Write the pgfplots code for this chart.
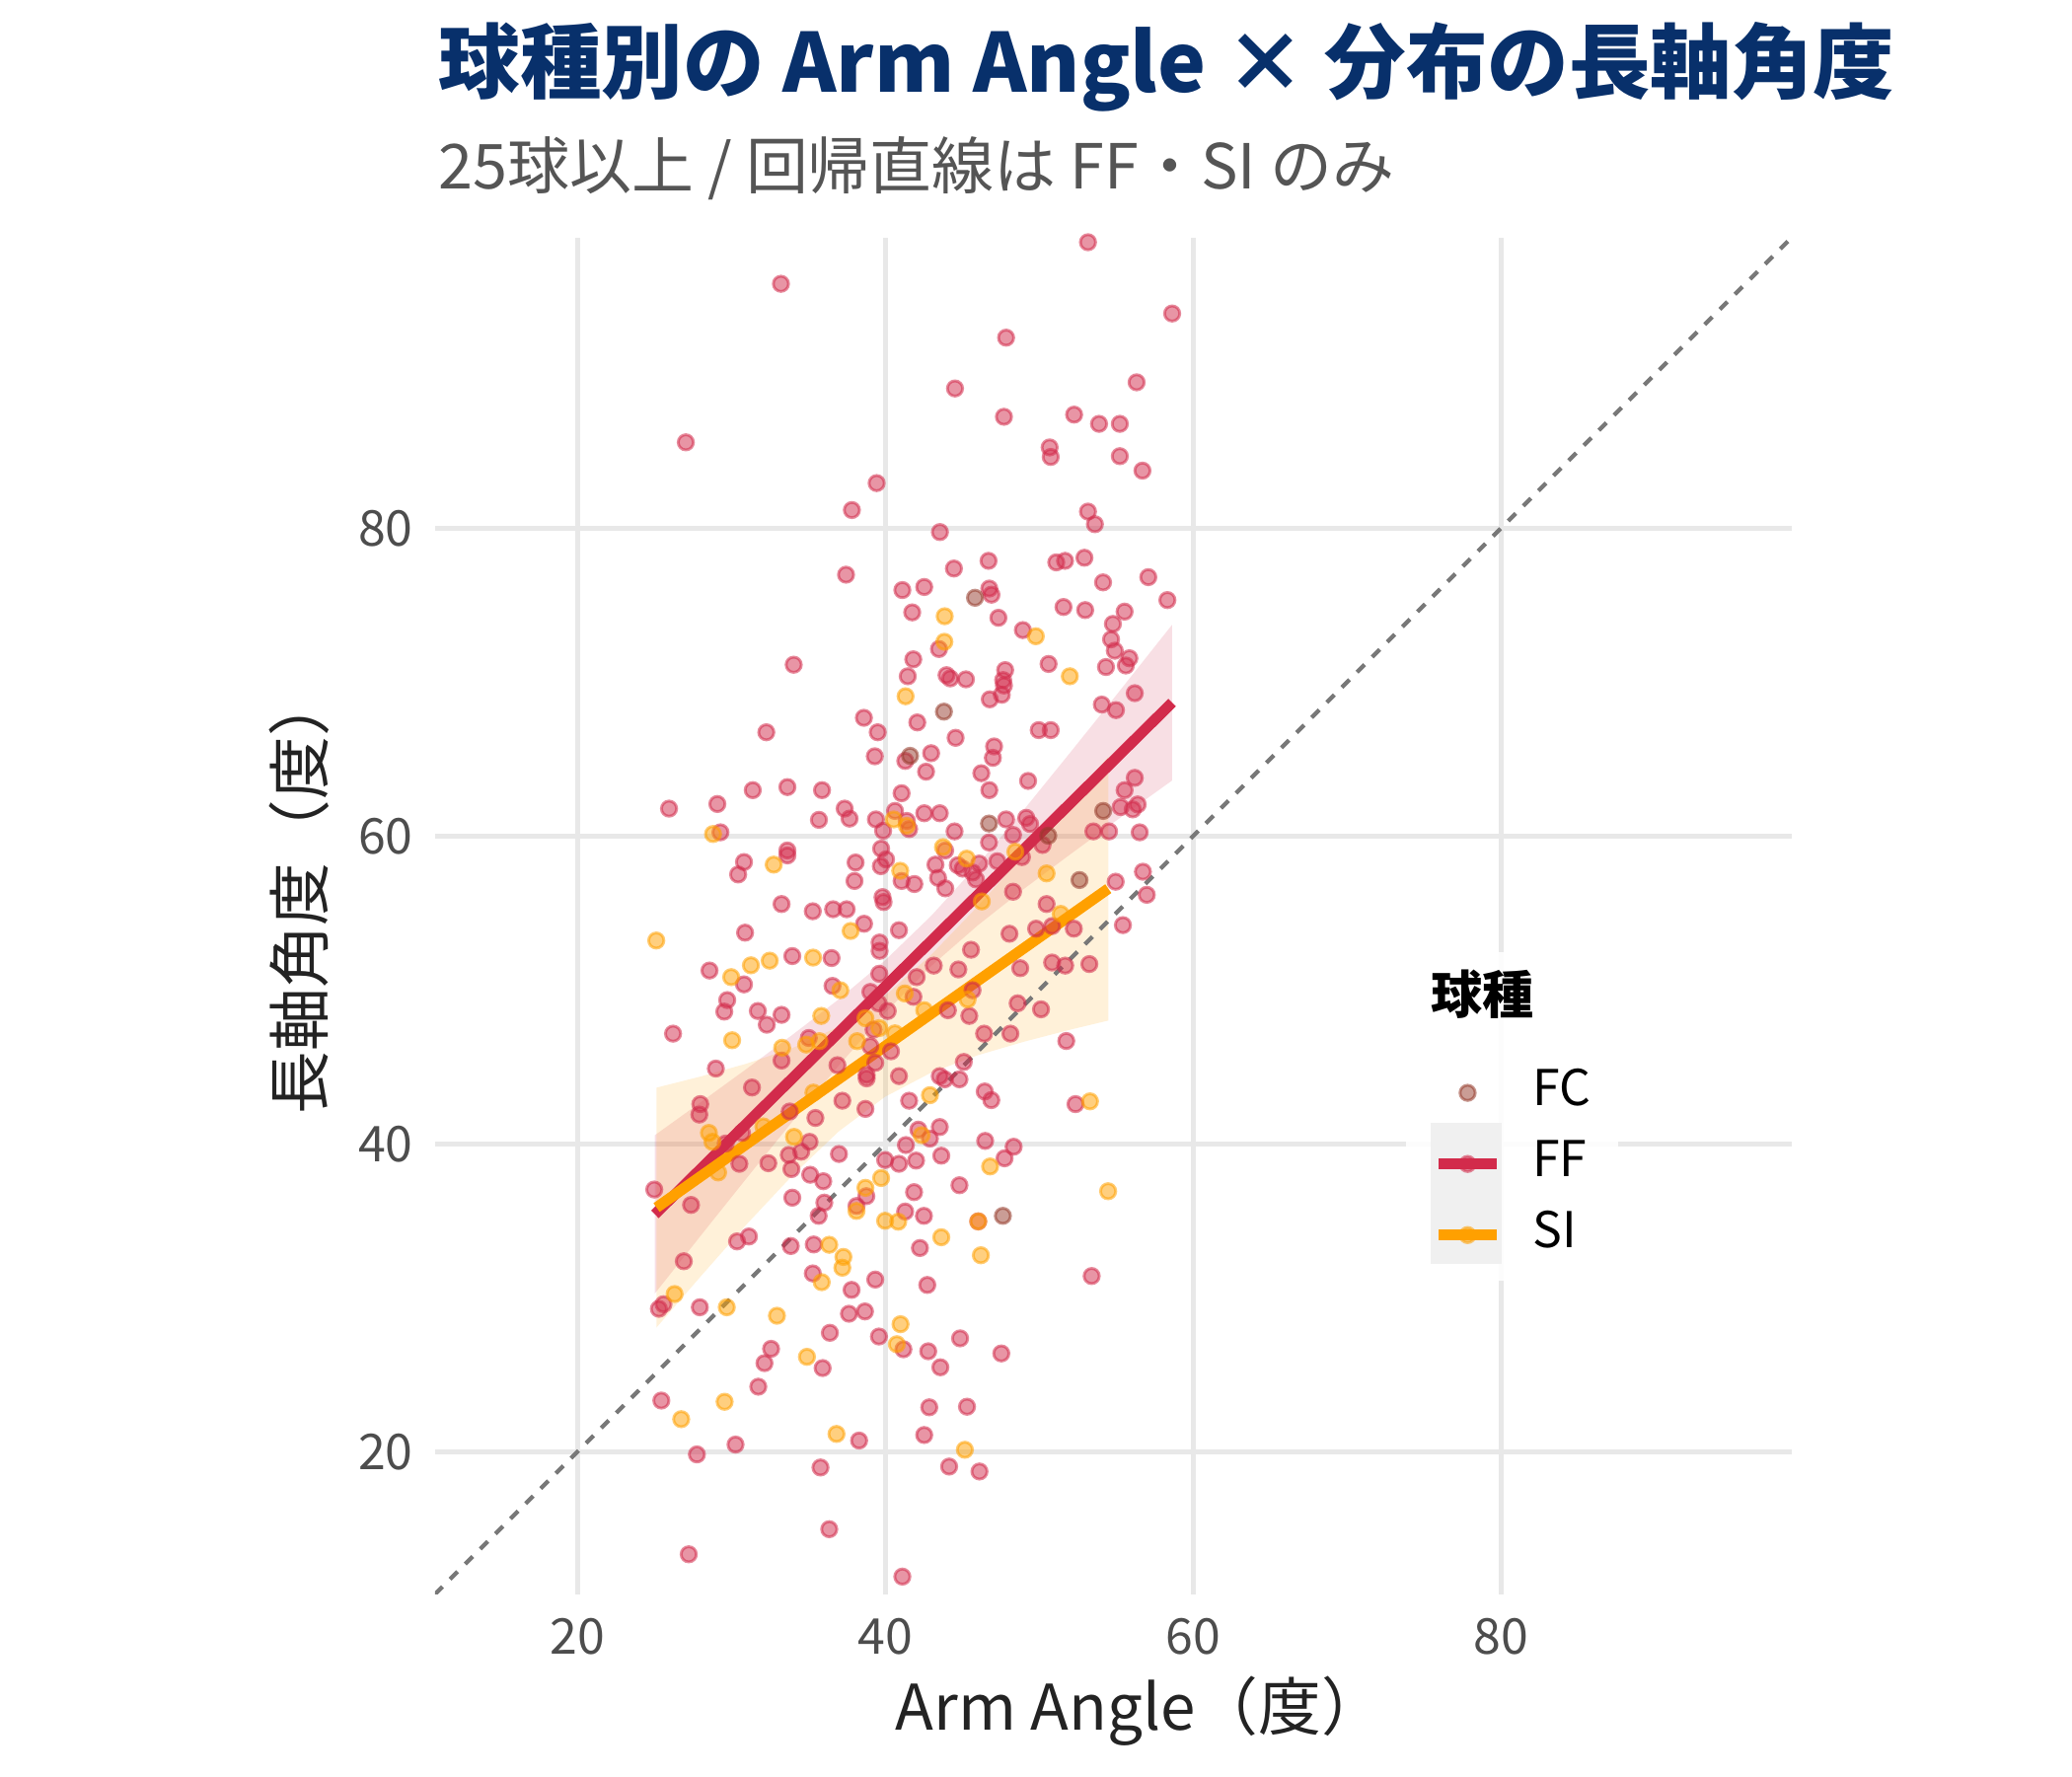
\documentclass[border=0pt]{standalone}
\usepackage{pgfplots}
\pgfplotsset{compat=1.18}
\usepackage{fontspec}
\setmainfont{Noto Sans CJK JP}
\definecolor{ffc}{RGB}{210,43,75}
\definecolor{sic}{RGB}{255,160,0}
\definecolor{fcc}{RGB}{150,60,45}
\definecolor{navy}{RGB}{8,48,107}
\definecolor{tickc}{RGB}{77,77,77}
\definecolor{subc}{RGB}{85,85,85}
\definecolor{gridc}{RGB}{232,232,232}
\definecolor{labc}{RGB}{35,35,35}
\definecolor{diagc}{RGB}{120,120,120}
\definecolor{keybg}{RGB}{240,240,240}
\begin{document}
\begin{tikzpicture}
\useasboundingbox (0,0) rectangle (504pt,432pt);
\node[anchor=base west, inner sep=0pt, text=navy, font=\fontsize{19.8}{23}\selectfont\bfseries] at (106.5pt,409.6pt) {球種別の Arm Angle × 分布の長軸角度};
\node[anchor=base west, inner sep=0pt, text=subc, font=\fontsize{15.1}{18}\selectfont] at (106.5pt,386pt) {25球以上 / 回帰直線は FF・SI のみ};
\node[anchor=base, inner sep=0pt, text=labc, font=\fontsize{15.3}{18}\selectfont] at (277.3pt,11.2pt) {Arm Angle（度）};
\node[rotate=90, inner sep=0pt, text=labc, font=\fontsize{15.3}{18}\selectfont] at (72.8pt,214.5pt) {長軸角度（度）};
\begin{axis}[
  at={(105.8pt,44.2pt)}, anchor=south west,
  width=330pt, height=330pt, scale only axis,
  xmin=10.75, xmax=98.9, ymin=10.75, ymax=98.9,
  xtick={20,40,60,80}, ytick={20,40,60,80},
  grid=major, major grid style={gridc, line width=1.2pt},
  axis line style={draw=none}, major tick length=0pt,
  tick label style={font=\fontsize{12}{14}\selectfont, text=tickc},
  /pgf/number format/assume math mode=true,
  xticklabel style={yshift=-2.2pt},
  yticklabel style={xshift=-1.8pt},
  legend image code/.code={\draw[mark repeat=2,mark phase=2,#1] plot coordinates {(0pt,0pt) (7pt,0pt) (14pt,0pt)};},
  legend style={at={(axis cs:75.63,45.07)}, anchor=north west, draw=none, fill=none,
    inner sep=0pt, outer sep=0pt, row sep=4.3pt, column sep=6.5pt,
    font=\fontsize{12}{14}\selectfont,
    nodes={inner sep=1pt, text height=8.5pt, text depth=2.5pt}},
  legend cell align=left,
  pt/.style={only marks, mark=*, mark size=1.85pt, line width=0.7pt, fill opacity=0.5, draw opacity=0.55},
]
% FF points
\addplot[forget plot, pt, color=ffc, fill=ffc] coordinates {
(53.18,98.6) (33.23,95.9) (58.65,93.97) (47.86,92.4) (56.34,89.5) (44.54,89.1) (47.72,87.26) (52.28,87.4) (53.9,86.8) (55.25,86.8) (27.05,85.6) (50.69,85.27) (50.76,84.65) (55.25,84.7) (56.72,83.76) (39.45,82.95) (37.84,81.2) (53.18,81.1) (53.63,80.28) (43.56,79.77)
(46.72,77.9) (51.12,77.8) (51.69,77.9) (52.95,78.1) (37.46,77.0) (44.47,77.4) (57.1,76.84) (54.16,76.5) (41.12,76.0) (42.54,76.2) (46.77,76.1) (46.91,75.7) (58.34,75.35) (41.76,74.55) (51.59,74.9) (53.0,74.7) (55.56,74.6) (47.36,74.2) (54.8,73.8) (48.95,73.4) (43.5,72.17) (54.68,72.8) (54.92,72.06) (55.87,71.57) (55.64,71.1) (54.35,71.0) (41.83,71.5) (34.06,71.15) (50.62,71.2) (41.47,70.4) (43.99,70.47) (44.23,70.26) (45.25,70.2) (47.8,70.8) (47.67,70.15) (47.72,69.8) (47.58,69.2) (46.8,68.9) (56.22,69.3) (54.08,68.56) (55.0,68.2) (38.62,67.7) (39.52,66.76) (32.28,66.76) (42.09,67.4) (49.98,66.9) (50.76,66.9) (44.58,66.4) (47.08,65.84) (47.0,65.1) (42.99,65.4) (41.31,64.9) (39.33,65.2) (42.66,64.2) (46.25,64.1) (49.29,63.6) (56.22,63.8) (31.4,63.0) (33.65,63.2) (35.9,63.0) (41.07,62.8) (46.77,63.0) (55.56,63.0)
(25.96,61.8) (29.1,62.1) (37.37,61.8) (37.69,61.15) (35.7,61.07) (39.4,61.1) (40.64,61.65) (29.3,60.26) (39.87,60.36) (33.65,59.08) (33.65,58.76) (30.83,58.33) (30.45,57.52) (38.08,58.3) (38.01,57.1) (39.74,59.2) (40.06,58.5) (39.72,58.06) (41.07,57.1) (39.83,56.05) (39.9,55.73) (33.27,55.6) (35.3,55.13) (36.62,55.26) (37.5,55.26) (38.63,54.32) (40.9,53.9) (30.9,53.74) (39.64,53.1) (39.64,52.56) (33.97,52.22) (36.52,52.09) (28.59,51.28) (30.83,50.38) (39.62,51.07) (36.58,50.28) (39.04,49.89) (29.74,49.36) (29.55,48.61) (31.73,48.65) (33.27,48.4) (32.31,47.76) (40.17,48.65) (39.57,49.15) (39.25,47.44) (26.22,47.18) (35.04,46.9) (39.04,46.37)
(55.3,61.9) (56.09,61.75) (56.41,62.07) (41.41,61.0) (41.56,60.47) (42.54,61.5) (43.55,61.5) (47.86,61.1) (49.17,61.2) (49.42,60.8) (48.31,60.09) (44.51,60.32) (46.75,59.6) (50.23,59.44) (53.53,60.32) (54.55,60.32) (56.54,60.26) (43.9,59.08) (48.89,58.65) (47.29,58.38) (46.11,58.23) (44.72,58.12) (45.04,57.9) (45.68,57.65) (45.9,57.2) (43.27,58.16) (43.44,57.3) (43.91,56.62) (41.9,56.9) (54.98,57.05) (56.75,57.7) (57.0,56.2) (48.31,56.4) (50.49,55.6) (49.81,54.0) (48.08,53.67) (50.85,54.17) (52.26,54.0) (55.45,54.23) (45.58,52.63) (43.16,51.6) (44.76,51.35) (42.05,50.85) (48.78,51.43) (50.85,51.8) (51.7,51.6) (53.27,51.7) (41.84,49.57) (45.68,50.0) (44.08,48.7) (45.47,48.33) (48.61,49.15) (50.13,48.76) (46.43,47.18) (48.14,47.18) (51.77,46.7)
(33.27,45.43) (40.38,46.03) (39.36,45.28) (36.9,45.13) (29.0,44.91) (31.35,43.68) (27.99,42.6) (27.93,41.92) (29.64,40.04) (30.7,40.73) (33.8,42.12) (37.22,42.82) (38.72,42.29) (35.47,41.7) (38.8,44.5) (38.8,44.27) (40.9,44.42) (35.09,40.15) (34.55,39.51) (33.74,39.3) (33.91,38.38) (32.41,38.76) (30.53,38.72) (37.0,39.36) (35.13,38.01) (35.98,37.59) (40.0,38.97) (40.9,38.72) (38.78,36.62) (33.97,36.52) (36.05,36.2) (35.68,35.34) (38.14,35.98) (25.0,37.05) (27.39,36.05) (30.38,33.68) (31.15,34.0) (33.87,33.38) (35.36,33.48) (35.3,31.6) (37.82,30.53) (39.36,31.2) (26.92,32.39) (25.3,29.3) (25.6,29.6)
(45.11,45.34) (43.55,44.42) (43.87,44.21) (44.83,44.21) (46.47,43.42) (46.9,42.86) (41.56,42.82) (52.37,42.6) (42.16,40.94) (42.91,40.36) (43.55,41.11) (41.35,39.94) (46.5,40.21) (48.35,39.83) (47.76,39.08) (42.01,38.93) (43.65,39.25) (44.83,37.33) (41.88,36.88) (41.3,35.62) (42.52,35.34) (46.05,34.98) (42.26,33.25) (42.74,30.85) (53.42,31.43)
(27.96,29.4) (37.65,28.98) (38.69,29.13) (36.41,27.74) (39.6,27.5) (41.19,26.67) (42.8,26.54) (44.87,27.38) (47.55,26.4) (32.59,26.7) (32.16,25.77) (35.94,25.45) (43.59,25.5) (31.76,24.24) (25.46,23.34) (42.87,22.9) (45.32,22.94) (42.54,21.1) (38.31,20.74) (30.28,20.48) (27.77,19.84) (35.8,18.99) (44.16,19.05) (46.13,18.73) (36.37,14.98) (27.24,13.35) (41.12,11.9)
};
% FC points
\addplot[forget plot, pt, color=fcc, fill=fcc] coordinates {
(45.84,75.5) (43.82,68.1) (41.62,65.23) (54.17,61.65) (46.75,60.83) (50.6,60.04) (52.63,57.16) (47.65,35.34)
};
% SI points
\addplot[forget plot, pt, color=sic, fill=sic] coordinates {
(43.87,74.3) (49.79,73.0) (43.85,72.64) (52.0,70.4) (41.33,69.1)
(40.56,61.1) (28.82,60.15) (32.76,58.16) (40.98,57.76) (37.76,53.85) (25.13,53.23) (35.32,52.12) (32.5,51.92) (31.28,51.62) (30.0,50.85) (37.09,50.0) (41.28,49.79) (35.85,48.33) (38.72,48.18) (39.62,47.54) (30.06,46.75) (34.87,46.47) (33.31,46.26) (38.18,46.69) (40.64,47.2) (35.73,46.69)
(41.41,60.68) (43.76,59.3) (45.3,58.55) (48.46,59.0) (50.49,57.59) (46.28,55.77) (51.41,54.96) (45.36,49.4) (42.54,48.7)
(28.55,40.73) (28.78,40.15) (32.09,41.15) (35.34,43.35) (34.08,40.47) (29.15,38.16) (39.74,37.8) (38.72,37.16) (38.14,35.66) (40.0,35.02) (40.85,34.96) (36.37,33.46) (37.29,32.67) (37.22,31.97) (35.88,31.03) (26.32,30.26)
(42.91,43.18) (53.31,42.78) (42.37,40.58) (46.82,38.55) (54.49,36.94) (46.05,34.98) (43.65,33.95) (46.22,32.78)
(29.71,29.4) (32.97,28.85) (41.0,28.3) (40.76,27.0) (34.92,26.18) (29.57,23.26) (26.75,22.13) (36.84,21.17) (45.18,20.14)
};
% ribbons
\addplot[forget plot, draw=none, fill=ffc, fill opacity=0.15] coordinates {
(25.04,30.30) (28,34.03) (31,37.79) (34,41.50) (37,45.12) (40,48.54) (43,51.58) (46,54.20) (49,56.57) (52,58.81) (55,61.01) (58.65,63.63)
(58.65,73.75) (55,69.15) (52,65.41) (49,61.71) (46,58.14) (43,54.84) (40,51.94) (37,49.42) (34,47.12) (31,44.89) (28,42.71) (25.04,40.58)
} -- cycle;
\addplot[forget plot, draw=none, fill=sic, fill opacity=0.15] coordinates {
(25.15,28.09) (28,31.39) (31,34.79) (34,37.99) (37,40.84) (40,43.08) (43,44.65) (46,45.77) (49,46.65) (52,47.43) (54.5,48.03)
(54.5,65.17) (52,62.23) (49,58.77) (46,55.43) (43,52.31) (40,49.64) (37,47.64) (34,46.25) (31,45.23) (28,44.39) (25.15,43.67)
} -- cycle;
% regression lines
\addplot[forget plot, ffc, line width=2.6pt] coordinates {(25.04,35.44) (58.65,68.69)};
\addplot[forget plot, sic, line width=2.6pt] coordinates {(25.15,35.88) (54.5,56.60)};
% diagonal
\addplot[forget plot, diagc, line width=1pt, dash pattern=on 2.6pt off 2.6pt] coordinates {(10.75,10.75) (98.9,98.9)};
% legend background
\fill[white, fill opacity=0.9] (axis cs:73.87,31.1) rectangle (axis cs:87.65,52.46);
\fill[keybg] (axis cs:75.44,32.2) rectangle (axis cs:80.06,41.4);
\node[anchor=west, inner sep=0pt, font=\fontsize{12.5}{14}\selectfont\bfseries] at (axis cs:75.44,49.72) {球種};
\addlegendimage{pt, color=fcc, fill=fcc}
\addlegendentry{FC}
\addlegendimage{ffc, line width=2.6pt, mark=*, mark size=1.85pt, mark options={line width=0.7pt, fill=ffc, fill opacity=0.5, draw opacity=0.55}}
\addlegendentry{FF}
\addlegendimage{sic, line width=2.6pt, mark=*, mark size=1.85pt, mark options={line width=0.7pt, fill=sic, fill opacity=0.5, draw opacity=0.55}}
\addlegendentry{SI}
\end{axis}
\end{tikzpicture}
\end{document}
